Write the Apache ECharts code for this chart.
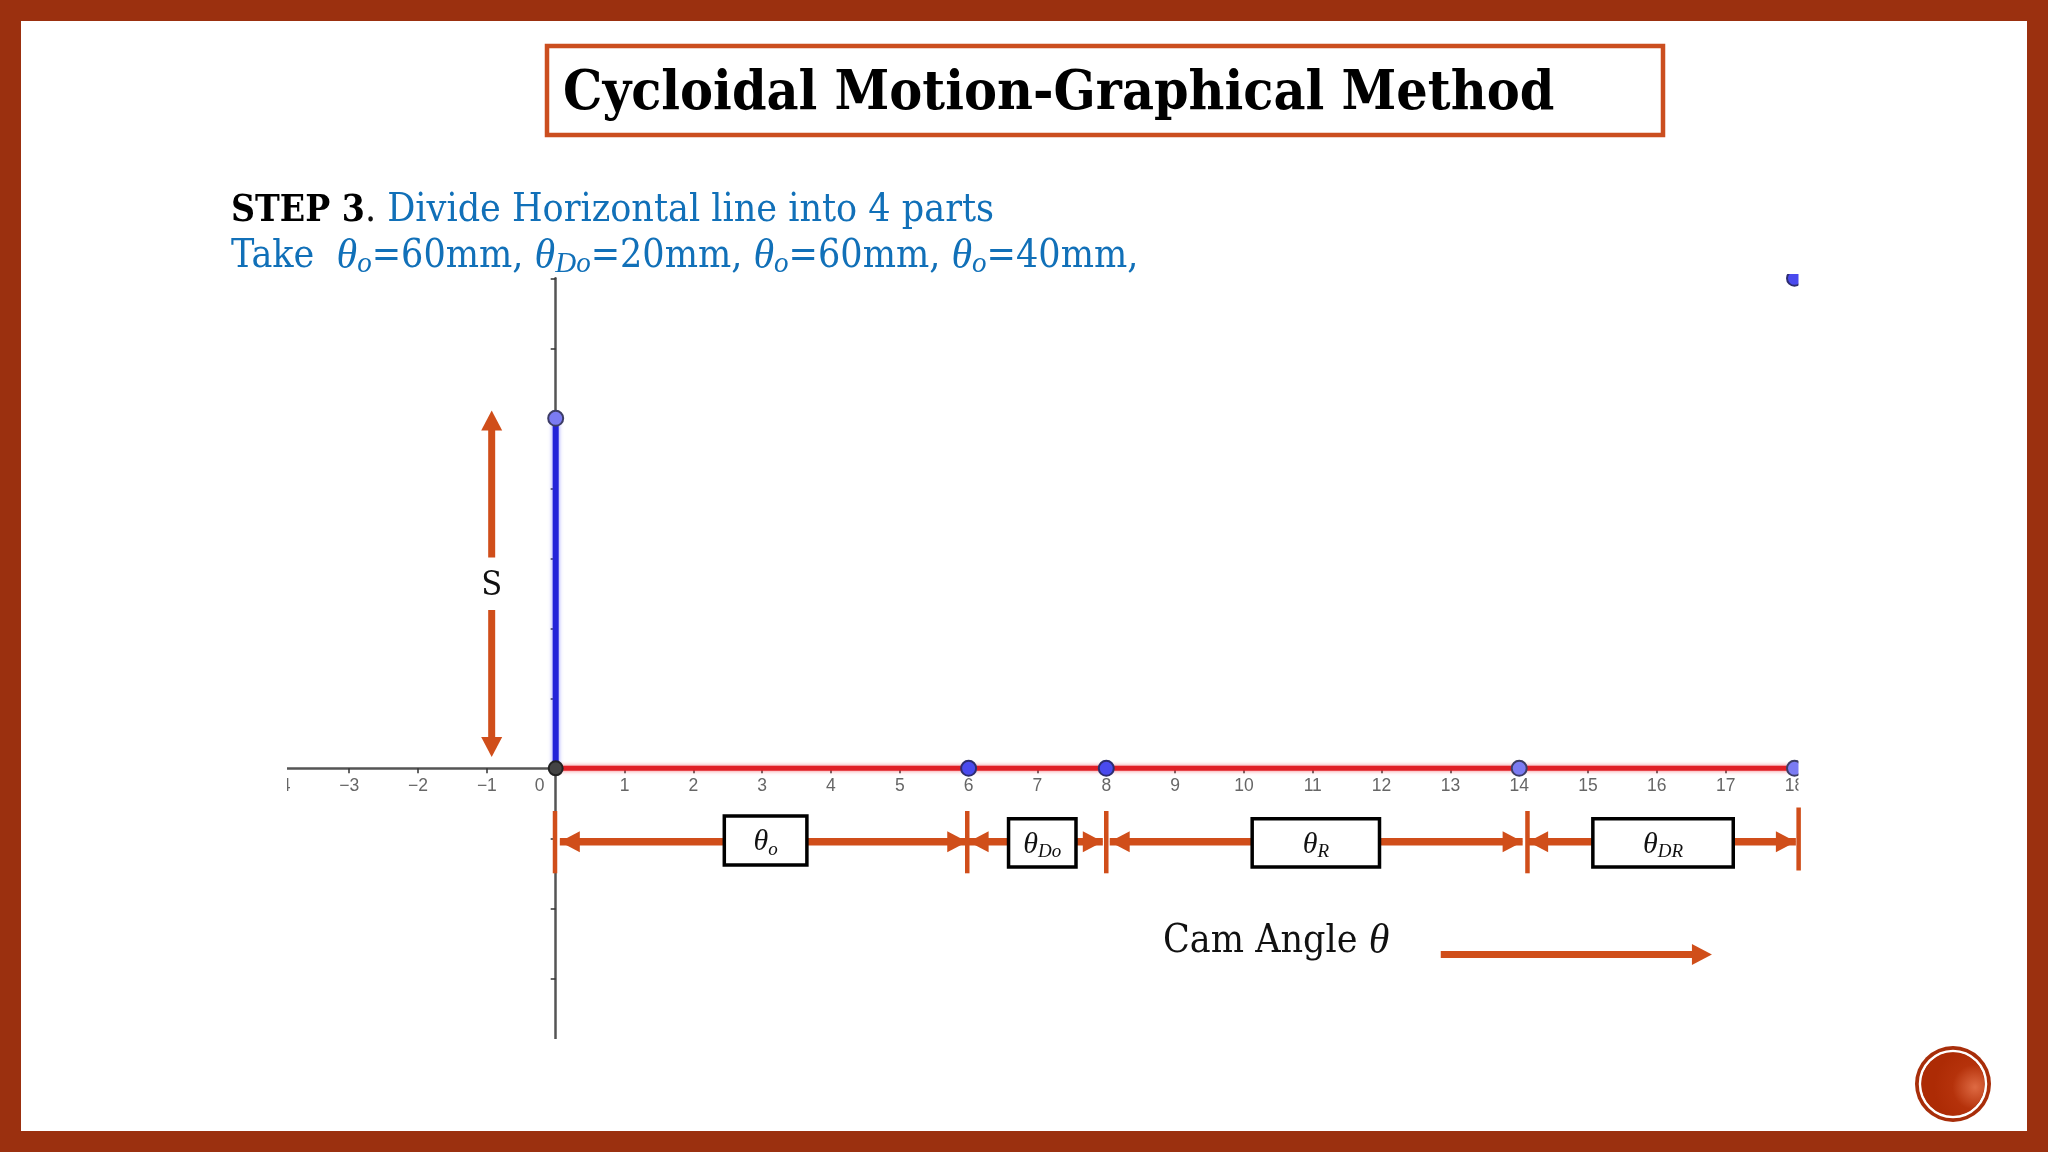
<!DOCTYPE html>
<html>
<head>
<meta charset="utf-8">
<title>Cycloidal Motion-Graphical Method</title>
<script src="https://cdn.jsdelivr.net/npm/echarts@6/dist/echarts.min.js"></script>
<style>
html, body { margin:0; padding:0; background:#fff; }
#main { width:2048px; height:1152px; }
</style>
</head>
<body>
<div id="main"></div>
<script>
// graph values
var riseLine = [[0, 0], [0, 5]];
var baseLine = [[0, 0], [18, 0]];
var originPoint = [[0, 0]];
var lightPoints = [[0, 5], [14, 0], [18, 0]];
var bluePoints = [[6, 0], [8, 0], [18, 7]];

// dimension annotations, in axis units
var dividers = [[-0.01, -0.61, -1.5], [5.98, -0.61, -1.5], [8, -0.61, -1.5], [14.12, -0.61, -1.5], [18.06, -0.56, -1.46]];
var spanArrows = [[0.06, 5.98, -1.05], [6, 7.95, -1.05], [8.05, 14.05, -1.05], [14.13, 18.02, -1.05]];
var spanBoxes = [[2.45, 3.65, -0.68, -1.38], [6.58, 7.56, -0.72, -1.41], [10.12, 11.97, -0.72, -1.41], [15.07, 17.11, -0.72, -1.41]];
var spanLabels = ['{t|θ}{s|o}', '{t|θ}{s|Do}', '{t|θ}{s|R}', '{t|θ}{s|DR}'];
var singleArrows = [[-0.93, 3.01, -0.93, 5.11], [-0.93, 2.26, -0.93, 0.16], [12.86, -2.66, 16.8, -2.66]];

var ORANGE = '#d04e1a';
var FRAME = '#9b300f';
var BLUE_TEXT = '#1170b8';
var SERIF = '"Liberation Serif"';
var SLAB = '"DejaVu Serif Condensed", "DejaVu Serif"';

function heads(from, to, headLen, headHalf) {
	var dx = to[0] - from[0], dy = to[1] - from[1];
	var len = Math.sqrt(dx * dx + dy * dy);
	var ux = dx / len, uy = dy / len;
	return [
		[to[0], to[1]],
		[to[0] - ux * headLen - uy * headHalf, to[1] - uy * headLen + ux * headHalf],
		[to[0] - ux * headLen + uy * headHalf, to[1] - uy * headLen - ux * headHalf]
	];
}

function orangeLine(a, b, w) {
	return {
		type: 'line',
		shape: { x1: a[0], y1: a[1], x2: b[0], y2: b[1] },
		style: { stroke: ORANGE, lineWidth: w, fill: null }
	};
}

function orangeHead(from, to) {
	return {
		type: 'polygon',
		shape: { points: heads(from, to, 20, 10.5) },
		style: { fill: ORANGE }
	};
}

function renderDivider(params, api) {
	return orangeLine(api.coord([api.value(0), api.value(1)]), api.coord([api.value(0), api.value(2)]), 4.5);
}

function renderSpan(params, api) {
	var a = api.coord([api.value(0), api.value(2)]);
	var b = api.coord([api.value(1), api.value(2)]);
	return {
		type: 'group',
		children: [orangeLine(a, b, 7.5), orangeHead(b, a), orangeHead(a, b)]
	};
}

function renderSingle(params, api) {
	var a = api.coord([api.value(0), api.value(1)]);
	var b = api.coord([api.value(2), api.value(3)]);
	var ux = (b[0] - a[0]) === 0 ? 0 : 1;
	var uy = (b[1] - a[1]) === 0 ? 0 : (b[1] > a[1] ? 1 : -1);
	return {
		type: 'group',
		children: [orangeLine(a, [b[0] - ux * 10, b[1] - uy * 10], 7), orangeHead(a, b)]
	};
}

function renderBox(params, api) {
	var p0 = api.coord([api.value(0), api.value(2)]);
	var p1 = api.coord([api.value(1), api.value(3)]);
	return {
		type: 'group',
		children: [{
			type: 'rect',
			shape: { x: p0[0], y: p0[1], width: p1[0] - p0[0], height: p1[1] - p0[1] },
			style: { fill: '#fff', stroke: '#000', lineWidth: 3.5 }
		}, {
			type: 'text',
			style: {
				x: (p0[0] + p1[0]) / 2,
				y: (p0[1] + p1[1]) / 2 + 2,
				align: 'center',
				verticalAlign: 'middle',
				text: spanLabels[params.dataIndex],
				rich: {
					t: { font: 'italic 30px ' + SERIF, fill: '#111', lineHeight: 34, verticalAlign: 'middle' },
					s: { font: 'italic 19px ' + SERIF, fill: '#111', lineHeight: 14, verticalAlign: 'bottom' }
				}
			}
		}]
	};
}

function pointSeries(data, fill, border, size) {
	return {
		type: 'line',
		data: data,
		lineStyle: { width: 0, opacity: 0 },
		symbol: 'circle',
		symbolSize: size,
		itemStyle: { color: fill, borderColor: border, borderWidth: 2, opacity: 1 },
		clip: false,
		silent: true,
		z: 5
	};
}

function customSeries(render, data, z) {
	return {
		type: 'custom',
		renderItem: render,
		data: data,
		clip: false,
		silent: true,
		z: z
	};
}

function whiteCover(x, y, w, h) {
	return {
		type: 'rect',
		z: 100,
		shape: { x: x, y: y, width: w, height: h },
		style: { fill: '#fff' }
	};
}

var subRich = {
	b: { font: 'bold 37px ' + SLAB, fill: '#000', lineHeight: 44, verticalAlign: 'middle' },
	d: { font: '39px ' + SLAB, fill: '#111', lineHeight: 44, verticalAlign: 'middle' },
	n: { font: '39px ' + SLAB, fill: BLUE_TEXT, lineHeight: 44, verticalAlign: 'middle' },
	i: { font: 'italic 42px ' + SERIF, fill: BLUE_TEXT, lineHeight: 44, verticalAlign: 'middle' },
	s: { font: 'italic 29px ' + SERIF, fill: BLUE_TEXT, lineHeight: 18, verticalAlign: 'bottom' }
};

var option = {
	backgroundColor: '#fff',
	animation: false,
	grid: { left: 280.4, right: 2048 - 1794.5, top: 278.3, bottom: 1152 - 1048.3 },
	xAxis: {
		type: 'value',
		min: -4,
		max: 18,
		interval: 1,
		splitLine: { show: false },
		axisLine: { lineStyle: { color: '#555', width: 2.5 } },
		axisTick: { length: 5, lineStyle: { color: '#333', width: 1.5 } },
		axisLabel: {
			color: '#666',
			fontFamily: 'Liberation Sans',
			fontSize: 17.5,
			margin: -271.5,
			showMinLabel: true,
			showMaxLabel: true,
			formatter: function (v) {
				if (v === 0) return '{z|0}';
				return String(v).replace('-', '\u2212');
			},
			rich: { z: { color: '#666', fontFamily: 'Liberation Sans', fontSize: 17.5, padding: [0, 32, 0, 0] } }
		}
	},
	yAxis: {
		type: 'value',
		min: -4,
		max: 7,
		interval: 1,
		splitLine: { show: false },
		axisLine: { lineStyle: { color: '#555', width: 2.5 } },
		axisTick: { length: 5, lineStyle: { color: '#333', width: 1.5 } },
		axisLabel: { show: false }
	},
	series: [
		{
			type: 'line',
			data: riseLine,
			symbol: 'none',
			clip: false,
			silent: true,
			lineStyle: { color: '#2222d8', width: 6, shadowColor: 'rgba(90,90,255,0.7)', shadowBlur: 4 },
			z: 3
		},
		{
			type: 'line',
			data: baseLine,
			symbol: 'none',
			clip: false,
			silent: true,
			lineStyle: { color: '#e01f26', width: 5, shadowColor: 'rgba(240,60,70,0.7)', shadowBlur: 4 },
			z: 3
		},
		pointSeries(lightPoints, '#7b7bf2', '#3d3d66', 15),
		pointSeries(bluePoints, '#4a4aee', '#2d2d70', 15),
		pointSeries(originPoint, '#444', '#222', 14),
		customSeries(renderSpan, spanArrows, 6),
		customSeries(renderDivider, dividers, 7),
		customSeries(renderBox, spanBoxes, 8),
		customSeries(renderSingle, singleArrows, 6)
	],
	graphic: [
		// slide frame
		{ type: 'rect', z: 90, shape: { x: 0, y: 0, width: 2048, height: 21 }, style: { fill: FRAME } },
		{ type: 'rect', z: 90, shape: { x: 0, y: 1131, width: 2048, height: 21 }, style: { fill: FRAME } },
		{ type: 'rect', z: 90, shape: { x: 0, y: 0, width: 21, height: 1152 }, style: { fill: FRAME } },
		{ type: 'rect', z: 90, shape: { x: 2027, y: 0, width: 21, height: 1152 }, style: { fill: FRAME } },

		// title
		{ type: 'rect', z: 90, shape: { x: 547, y: 46, width: 1116, height: 89 }, style: { fill: '#fff', stroke: '#cb4e1f', lineWidth: 4.5 } },
		{ type: 'text', z: 91, style: { x: 563, y: 95, text: 'Cycloidal Motion-Graphical Method', font: 'bold 55px ' + SLAB, fill: '#000', verticalAlign: 'middle' } },

		// step text
		{
			type: 'text', z: 91,
			style: {
				x: 231, y: 211, verticalAlign: 'middle',
				text: '{b|STEP 3}{d|. }{n|Divide Horizontal line into 4 parts}',
				rich: subRich
			}
		},
		{
			type: 'text', z: 91,
			style: {
				x: 231, y: 257, verticalAlign: 'middle',
				text: '{n|Take  }{i|θ}{s|o}{n|=60mm, }{i|θ}{s|Do}{n|=20mm, }{i|θ}{s|o}{n|=60mm, }{i|θ}{s|o}{n|=40mm,}',
				rich: subRich
			}
		},

		// annotation text
		{ type: 'text', z: 91, style: { x: 491.7, y: 586, text: 'S', font: '34px ' + SLAB, fill: '#111', align: 'center', verticalAlign: 'middle' } },
		{
			type: 'text', z: 91,
			style: {
				x: 1163, y: 942, verticalAlign: 'middle',
				text: '{d|Cam Angle }{e|θ}',
				rich: {
					d: { font: '39px ' + SLAB, fill: '#111' },
					e: { font: 'italic 42px ' + SERIF, fill: '#111' }
				}
			}
		},

		// corner bullet
		{ type: 'circle', z: 91, shape: { cx: 1953, cy: 1084, r: 38 }, style: { fill: '#a82e0a' } },
		{ type: 'circle', z: 91, shape: { cx: 1953, cy: 1084, r: 33 }, style: { fill: 'none', stroke: '#fff', lineWidth: 2.5 } },
		{
			type: 'circle', z: 91, shape: { cx: 1953, cy: 1084, r: 31.5 },
			style: {
				fill: {
					type: 'radial', x: 0.85, y: 0.55, r: 0.65,
					colorStops: [{ offset: 0, color: '#de6a43' }, { offset: 0.55, color: '#b5320b' }, { offset: 1, color: '#ad2b05' }]
				}
			}
		},

		// graph is cut off at the screenshot edges
		whiteCover(240, 760, 47, 40),
		whiteCover(1798.5, 755, 30, 45),
		whiteCover(1798.5, 265, 30, 30),
		whiteCover(1770, 262, 40, 12),
		whiteCover(548, 1039, 16, 14)
	]
};

var myChart = echarts.init(document.getElementById('main'), null, { renderer: 'canvas' });
myChart.setOption(option);
</script>
</body>
</html>
